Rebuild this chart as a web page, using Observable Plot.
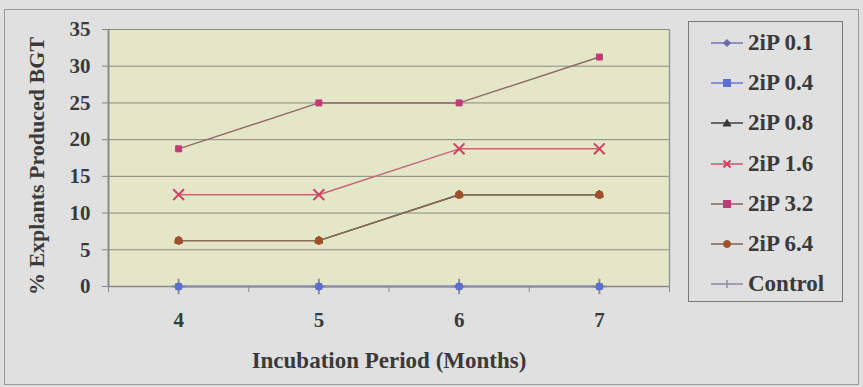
<!DOCTYPE html>
<html>
<head>
<meta charset="utf-8">
<script src="https://cdn.jsdelivr.net/npm/d3@7"></script>
<script src="https://cdn.jsdelivr.net/npm/@observablehq/plot@0.6"></script>
<style>
  html, body { margin: 0; padding: 0; background: #e0e0e0; }
  body { width: 863px; height: 387px; position: relative; overflow: hidden; font-family: "Liberation Serif", "Times New Roman", serif; }
  #frame { position: absolute; left: 4px; top: 9px; width: 853px; height: 374px; border: 1.5px solid #9a9a9a; }
  #chart { position: absolute; left: 0; top: 0; }
  #legend { position: absolute; left: 688px; top: 21px; width: 153px; height: 279px; border: 1.5px solid #7a7a7a; }
  .item { position: absolute; left: 0; height: 26px; display: flex; align-items: center; }
  .item svg { margin-left: 22px; }
  .item span { margin-left: 5px; font-weight: bold; font-size: 23px; color: #3a3a3a; }
</style>
</head>
<body>
<div id="frame"></div>
<div id="chart"></div>
<div id="legend"></div>
<script>
// ---- data ----
const months = [4, 5, 6, 7];
const seriesNames = ["2iP 0.1", "2iP 0.4", "2iP 0.8", "2iP 1.6", "2iP 3.2", "2iP 6.4", "Control"];
const v_01 = [0, 0, 0, 0];
const v_04 = [0, 0, 0, 0];
const v_08 = [6.25, 6.25, 12.5, 12.5];
const v_16 = [12.5, 12.5, 18.75, 18.75];
const v_32 = [18.75, 25, 25, 31.25];
const v_64 = [6.25, 6.25, 12.5, 12.5];
const v_ctl = [0, 0, 0, 0];
const yTicks = [0, 5, 10, 15, 20, 25, 30, 35];
const xTickLabels = ["4", "5", "6", "7"];

// ---- styles ----
const seriesValues = [v_01, v_04, v_08, v_16, v_32, v_64, v_ctl];
const lineColors = ["#7a7ab8", "#6f80d6", "#4a4a4a", "#c46878", "#8e6a6c", "#8a6a55", "#8e8ea6"];
const markColors = ["#6a6ab0", "#5a70cc", "#3a3a3a", "#d04060", "#c03a78", "#a0502a", "#8e8ea6"];
const symbols = ["diamond2", "square2", "triangle2", "times", "square2", "circle", "plus"];
const legendSym = ["diamond", "square", "triangle", "times", "square", "circle", "plus"];
const drawOrder = [6, 0, 1, 2, 3, 4, 5];

const rows = [];
seriesNames.forEach((s, i) => seriesValues[i].forEach((v, j) => rows.push({series: s, month: months[j], value: v, idx: i})));

const marks = [
  Plot.frame({fill: "#e4e6c8", stroke: null}),
  Plot.gridY(yTicks.filter(d => d > 0), {stroke: "#8a8a80", strokeOpacity: 1, strokeWidth: 1}),
  Plot.ruleX([7.5], {stroke: "#9a9a9a", strokeWidth: 1.5}),
  Plot.axisY(yTicks, {tickSize: 6, tickPadding: 12, fontSize: 21, fontWeight: "bold", fill: "#3a3a3a", stroke: "#888", label: null}),
  Plot.axisX([3.5, 4.5, 5.5, 6.5, 7.5], {tickSize: 6, tickFormat: () => "", stroke: "#888", label: null}),
  Plot.axisX(months, {tickSize: 0, tickPadding: 26, fontSize: 21, fontWeight: "bold", fill: "#3a3a3a", tickFormat: (d, i) => xTickLabels[i], label: null}),
  Plot.ruleY([0], {stroke: "#8a8a8a", strokeWidth: 1.5}),
  Plot.ruleX([3.5], {stroke: "#8a8a8a", strokeWidth: 2}),
  Plot.text(["Incubation Period (Months)"], {frameAnchor: "bottom", dy: 74, fontSize: 23, fontWeight: "bold", fill: "#3a3a3a", lineAnchor: "middle", textAnchor: "middle"}),
  Plot.text(["% Explants Produced BGT"], {frameAnchor: "left", rotate: -90, dx: -72, dy: 8, fontSize: 22, fontWeight: "bold", fill: "#3a3a3a", lineAnchor: "middle", textAnchor: "middle"})
];
seriesNames.forEach((s, i) => {
  const d = rows.filter(r => r.idx === i);
  marks.push(Plot.line(d, {x: "month", y: "value", stroke: lineColors[i], strokeWidth: 1.4}));
});
drawOrder.forEach(i => {
  const d = rows.filter(r => r.idx === i);
  const open = symbols[i] === "times" || symbols[i] === "plus";
  marks.push(Plot.dot(d, {x: "month", y: "value", symbol: () => symbols[i], r: open ? 5 : 3.8,
    fill: open ? "none" : markColors[i], stroke: markColors[i], strokeWidth: open ? 2 : 1}));
});

const chart = Plot.plot({
  width: 863, height: 387,
  marginLeft: 108, marginRight: 194, marginTop: 29, marginBottom: 101,
  style: {background: "transparent", fontFamily: "Liberation Serif, Times New Roman, serif", overflow: "visible"},
  x: {domain: [3.5, 7.5], axis: null},
  y: {domain: [0, 35], axis: null},
  symbol: {type: "identity"},
  marks
});
document.getElementById("chart").appendChild(chart);

// ---- legend ----
const legend = document.getElementById("legend");
function symPath(k) {
  switch (k) {
    case "diamond": return '<path d="M16,1.5 L19.5,5 L16,8.5 L12.5,5Z"/>';
    case "square": return '<rect x="12.5" y="1.5" width="7" height="7"/>';
    case "triangle": return '<path d="M16,1.5 L20,8 L12,8Z"/>';
    case "circle": return '<circle cx="16" cy="5" r="3.5"/>';
    case "times": return '<path d="M12.5,1.5 L19.5,8.5 M19.5,1.5 L12.5,8.5" fill="none" stroke-width="2"/>';
    case "plus": return '<path d="M16,1 L16,9" fill="none" stroke-width="1.5"/>';
  }
}
seriesNames.forEach((s, i) => {
  const div = document.createElement("div");
  div.className = "item";
  div.style.top = (8 + i * 40.2) + "px";
  div.innerHTML = `<svg width="32" height="10" style="overflow:visible"><line x1="0" x2="32" y1="5" y2="5" stroke="${lineColors[i]}" stroke-width="1.6"/><g fill="${markColors[i]}" stroke="${markColors[i]}">${symPath(legendSym[i])}</g></svg><span>${s}</span>`;
  legend.appendChild(div);
});
</script>
</body>
</html>
